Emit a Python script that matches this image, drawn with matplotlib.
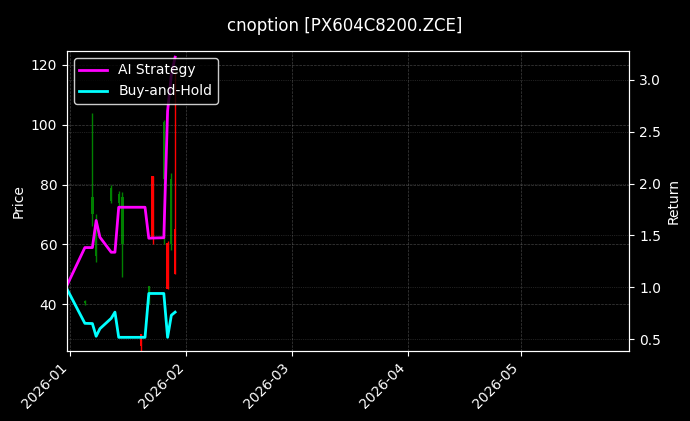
import matplotlib
matplotlib.use("Agg")
import matplotlib.pyplot as plt
import matplotlib.dates as mdates
import pandas as pd
import numpy as np

line_dates = ["2025-12-31","2026-01-05","2026-01-07","2026-01-08","2026-01-09","2026-01-12","2026-01-13",
              "2026-01-14","2026-01-21","2026-01-22","2026-01-23","2026-01-26","2026-01-27","2026-01-28","2026-01-29"]
strategy = [1.0,1.383,1.383,1.644,1.483,1.338,1.338,1.772,1.772,1.473,1.475,1.478,2.70,3.05,3.22]
buyhold  = [1.0,0.652,0.650,0.527,0.60,0.70,0.76,0.517,0.517,0.94,0.94,0.94,0.517,0.73,0.76]

c_dates = ["2026-01-05","2026-01-07","2026-01-08","2026-01-12","2026-01-14","2026-01-15","2026-01-20",
           "2026-01-22","2026-01-23","2026-01-26","2026-01-27","2026-01-28","2026-01-29"]
c_open  = [40.3,70,56,74.5,74,60,30,41,83,82,60.5,60,65]
c_high  = [41.5,104,70,80,78,77.5,30,46,83,101.5,61,84,118]
c_low   = [39.8,66,54,74,73,49,24,40,60,60,45,58,50]
c_close = [41.2,76,66,79,77,76,26,46,62,101,45,82,50]

plt.rcParams['font.family'] = ['DejaVu Sans']
fig = plt.figure(figsize=(6.9,4.21), dpi=100, facecolor='black')
ax = fig.add_axes([0.097,0.166,0.815,0.713], facecolor='black')
ax2 = ax.twinx()

cd = pd.to_datetime(c_dates)
for d,o,h,l,c in zip(cd,c_open,c_high,c_low,c_close):
    col = 'green' if c >= o else 'red'
    ax.vlines(d, l, h, color=col, linewidth=1)
    ax.bar(d, abs(c-o) if abs(c-o)>0.3 else 0.3, bottom=min(o,c), width=0.6, color=col)

ld = pd.to_datetime(line_dates)
ax2.plot(ld, strategy, color='#ff00ff', linewidth=2, label='AI Strategy')
ax2.plot(ld, buyhold, color='#00ffff', linewidth=2, label='Buy-and-Hold')

ax.set_ylim(24.3,124.7)
ax2.set_ylim(0.384,3.28)
ax.set_xlim(pd.Timestamp("2025-12-31 05:30"), pd.Timestamp("2026-05-29 19:00"))
ax.xaxis.set_major_locator(mdates.MonthLocator())
ax.xaxis.set_major_formatter(mdates.DateFormatter('%Y-%m'))
plt.setp(ax.get_xticklabels(), rotation=45, ha='right')

for a in (ax, ax2):
    a.tick_params(colors='white')
    for s in a.spines.values():
        s.set_color('white')
ax.grid(True, color='gray', linestyle='--', linewidth=0.5, alpha=0.5)
ax2.grid(True, color='gray', linestyle=':', linewidth=0.5, alpha=0.5)
ax.set_ylabel('Price', color='white')
ax2.set_ylabel('Return', color='white')
fig.suptitle('cnoption [PX604C8200.ZCE]', color='white', y=0.96, fontsize=12)
leg = ax2.legend(loc='upper left', facecolor='black', edgecolor='white', labelcolor='white')
fig.savefig('out.png', dpi=100, facecolor='black')
